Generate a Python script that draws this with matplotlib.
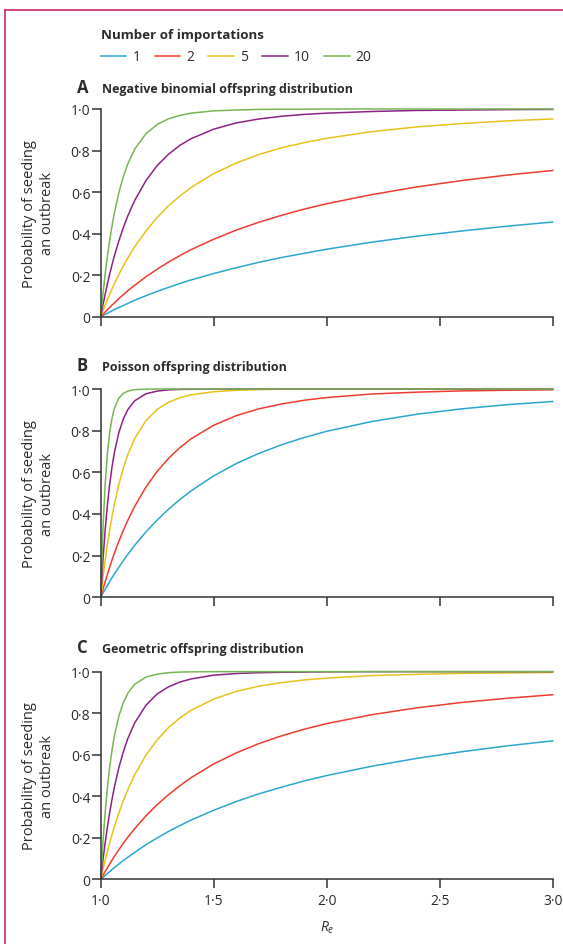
import matplotlib
matplotlib.use('Agg')
import matplotlib.pyplot as plt
from matplotlib.lines import Line2D

plt.rcParams['font.family'] = ['Open Sans', 'DejaVu Sans']
plt.rcParams['mathtext.fontset'] = 'custom'
plt.rcParams['mathtext.it'] = 'Open Sans:italic'
plt.rcParams['mathtext.rm'] = 'Open Sans'

# effective reproduction number (x axis)
re_values = [1.0, 1.01, 1.02, 1.03, 1.04, 1.05, 1.06, 1.08, 1.1, 1.12, 1.15, 1.2, 1.25, 1.3,
             1.35, 1.4, 1.5, 1.6, 1.7, 1.8, 1.9, 2.0, 2.2, 2.4, 2.6, 2.8, 3.0]
importations = ['1', '2', '5', '10', '20']

# A - negative binomial
nb_1 = [0, .006, .012, .017, .023, .028, .034, .044, .054, .064, .079, .101, .122, .141,
        .160, .177, .208, .236, .262, .285, .305, .325, .359, .388, .413, .436, .456]
nb_2 = [0, .012, .023, .034, .045, .056, .066, .087, .106, .125, .151, .192, .229, .263,
        .294, .323, .373, .417, .455, .488, .518, .544, .588, .625, .656, .682, .704]
nb_5 = [0, .029, .057, .084, .109, .134, .158, .203, .244, .283, .336, .413, .478, .534,
        .581, .622, .689, .740, .781, .813, .838, .859, .891, .914, .930, .943, .952]
nb_10 = [0, .057, .110, .160, .207, .250, .291, .364, .429, .486, .559, .655, .728, .782,
         .825, .857, .903, .933, .952, .965, .974, .980, .988, .993, .995, .997, .998]
nb_20 = [0, .111, .209, .295, .370, .437, .497, .596, .674, .736, .806, .881, .926, .953,
         .969, .980, .991, .995, .998, .999, .999, 1, 1, 1, 1, 1, 1]

# B - Poisson
po_1 = [0, .020, .039, .058, .076, .094, .111, .144, .176, .206, .249, .314, .371, .423,
        .469, .511, .583, .642, .691, .732, .767, .797, .844, .879, .905, .925, .940]
po_2 = [0, .039, .076, .112, .146, .179, .210, .268, .321, .370, .436, .529, .605, .667,
        .718, .761, .826, .872, .905, .928, .946, .959, .976, .985, .991, .994, .996]
po_5 = [0, .095, .180, .257, .326, .389, .445, .541, .620, .685, .761, .848, .902, .936,
        .958, .972, .987, .994, .997, .999, .999, 1, 1, 1, 1, 1, 1]
po_10 = [0, .181, .328, .448, .546, .626, .692, .790, .856, .901, .943, .977, .990, .996,
         .998, .999, 1, 1, 1, 1, 1, 1, 1, 1, 1, 1, 1]
po_20 = [0, .329, .548, .695, .794, .860, .905, .956, .979, .990, .997, .999, 1, 1,
         1, 1, 1, 1, 1, 1, 1, 1, 1, 1, 1, 1, 1]

# C - geometric
ge_1 = [0, .010, .020, .029, .038, .048, .057, .074, .091, .107, .130, .167, .200, .231,
        .259, .286, .333, .375, .412, .444, .474, .500, .545, .583, .615, .643, .667]
ge_2 = [0, .020, .039, .057, .075, .093, .110, .143, .174, .203, .244, .306, .360, .408,
        .451, .490, .556, .609, .654, .691, .723, .750, .793, .826, .852, .872, .889]
ge_5 = [0, .049, .094, .137, .178, .216, .253, .319, .379, .433, .503, .598, .672, .731,
        .777, .814, .868, .905, .930, .947, .960, .969, .981, .987, .992, .994, .996]
ge_10 = [0, .095, .180, .256, .324, .386, .442, .537, .614, .678, .753, .838, .893, .927,
         .950, .965, .983, .991, .995, .997, .998, .999, 1, 1, 1, 1, 1]
ge_20 = [0, .180, .327, .446, .544, .623, .688, .785, .851, .896, .939, .974, .988, .995,
         .998, .999, 1, 1, 1, 1, 1, 1, 1, 1, 1, 1, 1]

panels = [('A', 'Negative binomial offspring distribution', [nb_1, nb_2, nb_5, nb_10, nb_20]),
          ('B', 'Poisson offspring distribution', [po_1, po_2, po_5, po_10, po_20]),
          ('C', 'Geometric offspring distribution', [ge_1, ge_2, ge_5, ge_10, ge_20])]

colors = ['#2ba6cf', '#ef3b30', '#e8c21a', '#8c2286', '#76b653']
boxes = [[0.1789, 0.6638, 0.8028, 0.2198],
         [0.1789, 0.3669, 0.8028, 0.2204],
         [0.1789, 0.0683, 0.8028, 0.2199]]
title_y = [0.9013, 0.6077, 0.3087]
axc = '#333333'
txt = '#2b2b2b'

fig = plt.figure(figsize=(5.63, 9.45), dpi=100)

for i, (letter, title, series) in enumerate(panels):
    ax = fig.add_axes(boxes[i])
    for ys, c, lab in zip(series, colors, importations):
        ax.plot(re_values, ys, color=c, lw=1.1, label=lab, clip_on=False)
    ax.set_xlim(1, 3)
    ax.set_ylim(0, 1)
    ax.spines[['top', 'right']].set_visible(False)
    for s in ['left', 'bottom']:
        ax.spines[s].set_linewidth(1.1)
        ax.spines[s].set_color(axc)
    ax.set_xticks([1, 1.5, 2, 2.5, 3])
    ax.set_yticks([0, 0.2, 0.4, 0.6, 0.8, 1.0])
    ax.set_yticklabels(['0', '0·2', '0·4', '0·6', '0·8', '1·0'])
    if i == 2:
        ax.set_xticklabels(['1·0', '1·5', '2·0', '2·5', '3·0'])
    else:
        ax.set_xticklabels([])
    ax.tick_params(direction='out', length=6.5, width=1.1, color=axc,
                   labelsize=10, labelcolor=txt, pad=1)
    ax.tick_params(axis='x', pad=3)

    cy = boxes[i][1] + boxes[i][3] / 2
    fig.text(0.0684, cy, 'Probability of seeding\nan outbreak', rotation=90,
             ha='center', va='center', fontsize=10.5, color=txt, linespacing=1.25)
    fig.text(0.1362, title_y[i], letter, fontsize=12, weight='bold', va='baseline', color=txt)
    fig.text(0.1806, title_y[i], title, fontsize=9, weight='bold', va='baseline', color=txt)

fig.text(0.5808, 0.0187, '$R_e$', ha='center', va='center', fontsize=10, color=txt)

handles, labels = ax.get_legend_handles_labels()
leg = fig.legend(handles, labels, loc='upper left', bbox_to_anchor=(0.1789, 0.9692),
                 ncol=5, frameon=False, title='Number of importations',
                 title_fontproperties={'weight': 'bold', 'size': 9.6},
                 alignment='left', fontsize=10, handlelength=1.85, handletextpad=0.45,
                 columnspacing=1.0, borderpad=0, borderaxespad=0, labelspacing=0.6,
                 labelcolor=txt)
leg.get_title().set_color(txt)

frame = '#c8194f'
fig.add_artist(Line2D([5.4 / 563, 1], [1 - 10.5 / 945] * 2, transform=fig.transFigure, color=frame, lw=1.1))
fig.add_artist(Line2D([5.4 / 563] * 2, [0, 1 - 10.5 / 945], transform=fig.transFigure, color=frame, lw=1.1))

fig.savefig('out.png', dpi=100)
